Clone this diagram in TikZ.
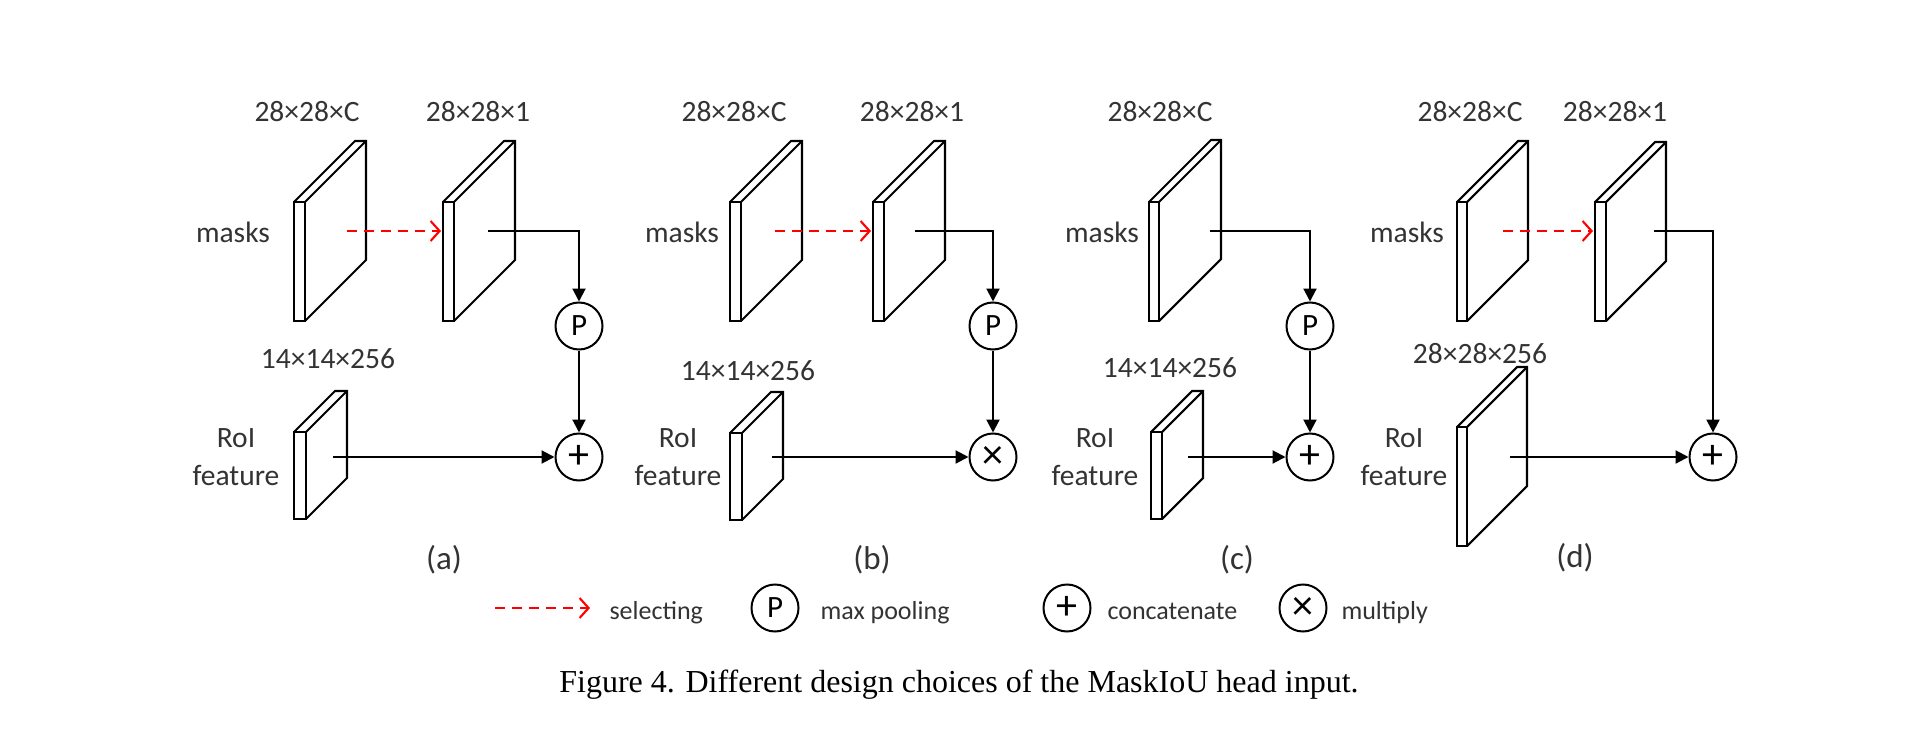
\documentclass[tikz,border=0pt]{standalone}
\usepackage{fontspec}
\setmainfont{Carlito}
\newfontfamily\capfont{Liberation Serif}
\usetikzlibrary{arrows.meta}
\newcommand\myslab[5]{%
  \draw[slabline] (#1,#2) rectangle ++(#3,#4);
  \draw[slabline] (#1,#2) -- ++(#5,-#5) -- ++(#3,0) -- ++(0,#4) -- ++(-#5,#5);
  \draw[slabline] (#1+#3,#2) -- ++(#5,-#5);
}
\begin{document}
\begin{tikzpicture}[x=1pt,y=-1pt,
  slabline/.style={line width=2.1pt, line join=miter},
  conn/.style={line width=2.1pt,-{Triangle[length=13pt,width=13pt]}},
  sel/.style={draw=red, line width=2.1pt, dash pattern=on 10pt off 7pt, -{Straight Barb[length=9pt,width=20pt]}},
  op/.style={circle, draw, line width=2pt, minimum size=47pt, inner sep=0pt, font=\fontsize{31}{31}\selectfont},
  opbig/.style={op, font=\fontsize{42}{42}\selectfont},
  lab/.style={anchor=base, text=black!80, font=\fontsize{29.5}{35}\selectfont},
  plab/.style={anchor=center, text=black!80, font=\fontsize{33}{38}\selectfont},
  leg/.style={anchor=base west, text=black!80, font=\fontsize{26}{30}\selectfont}]
\fill[white] (0,0) rectangle (1930,730);
\useasboundingbox (0,0) rectangle (1930,730);

% ---------------- (a) ----------------
\myslab{294}{202}{11}{119}{61}
\myslab{443}{202}{11}{119}{61}
\myslab{294}{432}{12}{87}{41}
\node[lab] (a-t1) at (307,122) {28×28×C};
\node[lab] (a-t2) at (478,122) {28×28×1};
\node[lab] (a-masks) at (233,242) {masks};
\node[lab] (a-t3) at (328,368) {14×14×256};
\node[lab] (a-roi) at (236,447) {RoI};
\node[lab] (a-feat) at (236,485) {feature};
\node[plab] (a-lbl) at (444,560) {(a)};
\node[op] (a-P) at (579,326) {P};
\node[opbig] (a-C) at (579,457) {+};
\coordinate (a-s1) at (347,231);
\coordinate (a-s2) at (441,231);
\coordinate (a-m2) at (488,231);
\coordinate (a-r) at (333,457);
\draw[sel] (a-s1) -- (a-s2);
\draw[conn] (a-m2) -| (a-P);
\draw[conn] (a-P) -- (a-C);
\draw[conn] (a-r) -- (a-C);

% ---------------- (b) ----------------
\myslab{730}{202}{11}{119}{61}
\myslab{873}{202}{11}{119}{61}
\myslab{730}{433}{12}{87}{41}
\node[lab] (b-t1) at (734,122) {28×28×C};
\node[lab] (b-t2) at (912,122) {28×28×1};
\node[lab] (b-masks) at (682,242) {masks};
\node[lab] (b-t3) at (748,380) {14×14×256};
\node[lab] (b-roi) at (678,447) {RoI};
\node[lab] (b-feat) at (678,485) {feature};
\node[plab] (b-lbl) at (872,560) {(b)};
\node[op] (b-P) at (993,326) {P};
\node[opbig] (b-M) at (993,457) {×};
\coordinate (b-s1) at (775,231);
\coordinate (b-s2) at (871,231);
\coordinate (b-m2) at (915,231);
\coordinate (b-r) at (772,457);
\draw[sel] (b-s1) -- (b-s2);
\draw[conn] (b-m2) -| (b-P);
\draw[conn] (b-P) -- (b-M);
\draw[conn] (b-r) -- (b-M);

% ---------------- (c) ----------------
\myslab{1149}{202}{10}{119}{62}
\myslab{1151}{432}{11}{87}{41}
\node[lab] (c-t1) at (1160,122) {28×28×C};
\node[lab] (c-masks) at (1102,242) {masks};
\node[lab] (c-t3) at (1170,377) {14×14×256};
\node[lab] (c-roi) at (1095,447) {RoI};
\node[lab] (c-feat) at (1095,485) {feature};
\node[plab] (c-lbl) at (1237,560) {(c)};
\node[op] (c-P) at (1310,326) {P};
\node[opbig] (c-C) at (1310,457) {+};
\coordinate (c-m1) at (1210,231);
\coordinate (c-r) at (1188,457);
\draw[conn] (c-m1) -| (c-P);
\draw[conn] (c-P) -- (c-C);
\draw[conn] (c-r) -- (c-C);

% ---------------- (d) ----------------
\myslab{1457}{202}{10}{119}{61}
\myslab{1595}{202}{11}{119}{60}
\myslab{1457}{427}{10}{119}{60}
\node[lab] (d-t1) at (1470,122) {28×28×C};
\node[lab] (d-t2) at (1615,122) {28×28×1};
\node[lab] (d-masks) at (1407,242) {masks};
\node[lab] (d-t3) at (1480,363) {28×28×256};
\node[lab] (d-roi) at (1404,447) {RoI};
\node[lab] (d-feat) at (1404,485) {feature};
\node[plab] (d-lbl) at (1575,558) {(d)};
\node[opbig] (d-C) at (1713,457) {+};
\coordinate (d-s1) at (1503,231);
\coordinate (d-s2) at (1593,231);
\coordinate (d-m2) at (1654,231);
\coordinate (d-r) at (1510,457);
\draw[sel] (d-s1) -- (d-s2);
\draw[conn] (d-m2) -| (d-C);
\draw[conn] (d-r) -- (d-C);

% ---------------- legend ----------------
\coordinate (l-s1) at (495,608);
\coordinate (l-s2) at (590,608);
\draw[sel] (l-s1) -- (l-s2);
\node[leg] (l-sel) at (606,619) {selecting};
\node[op] (l-P) at (775,608) {P};
\node[leg] (l-pool) at (817,619) {max pooling};
\node[opbig] (l-C) at (1067,608) {+};
\node[leg] (l-cat) at (1104,619) {concatenate};
\node[opbig] (l-M) at (1303,608) {×};
\node[leg] (l-mul) at (1338,619) {multiply};

% ---------------- caption ----------------
\node[anchor=base, font=\capfont\fontsize{32}{38}\selectfont] (cap) at (959,692) {Figure 4. Different design choices of the MaskIoU head input.};
\end{tikzpicture}
\end{document}
